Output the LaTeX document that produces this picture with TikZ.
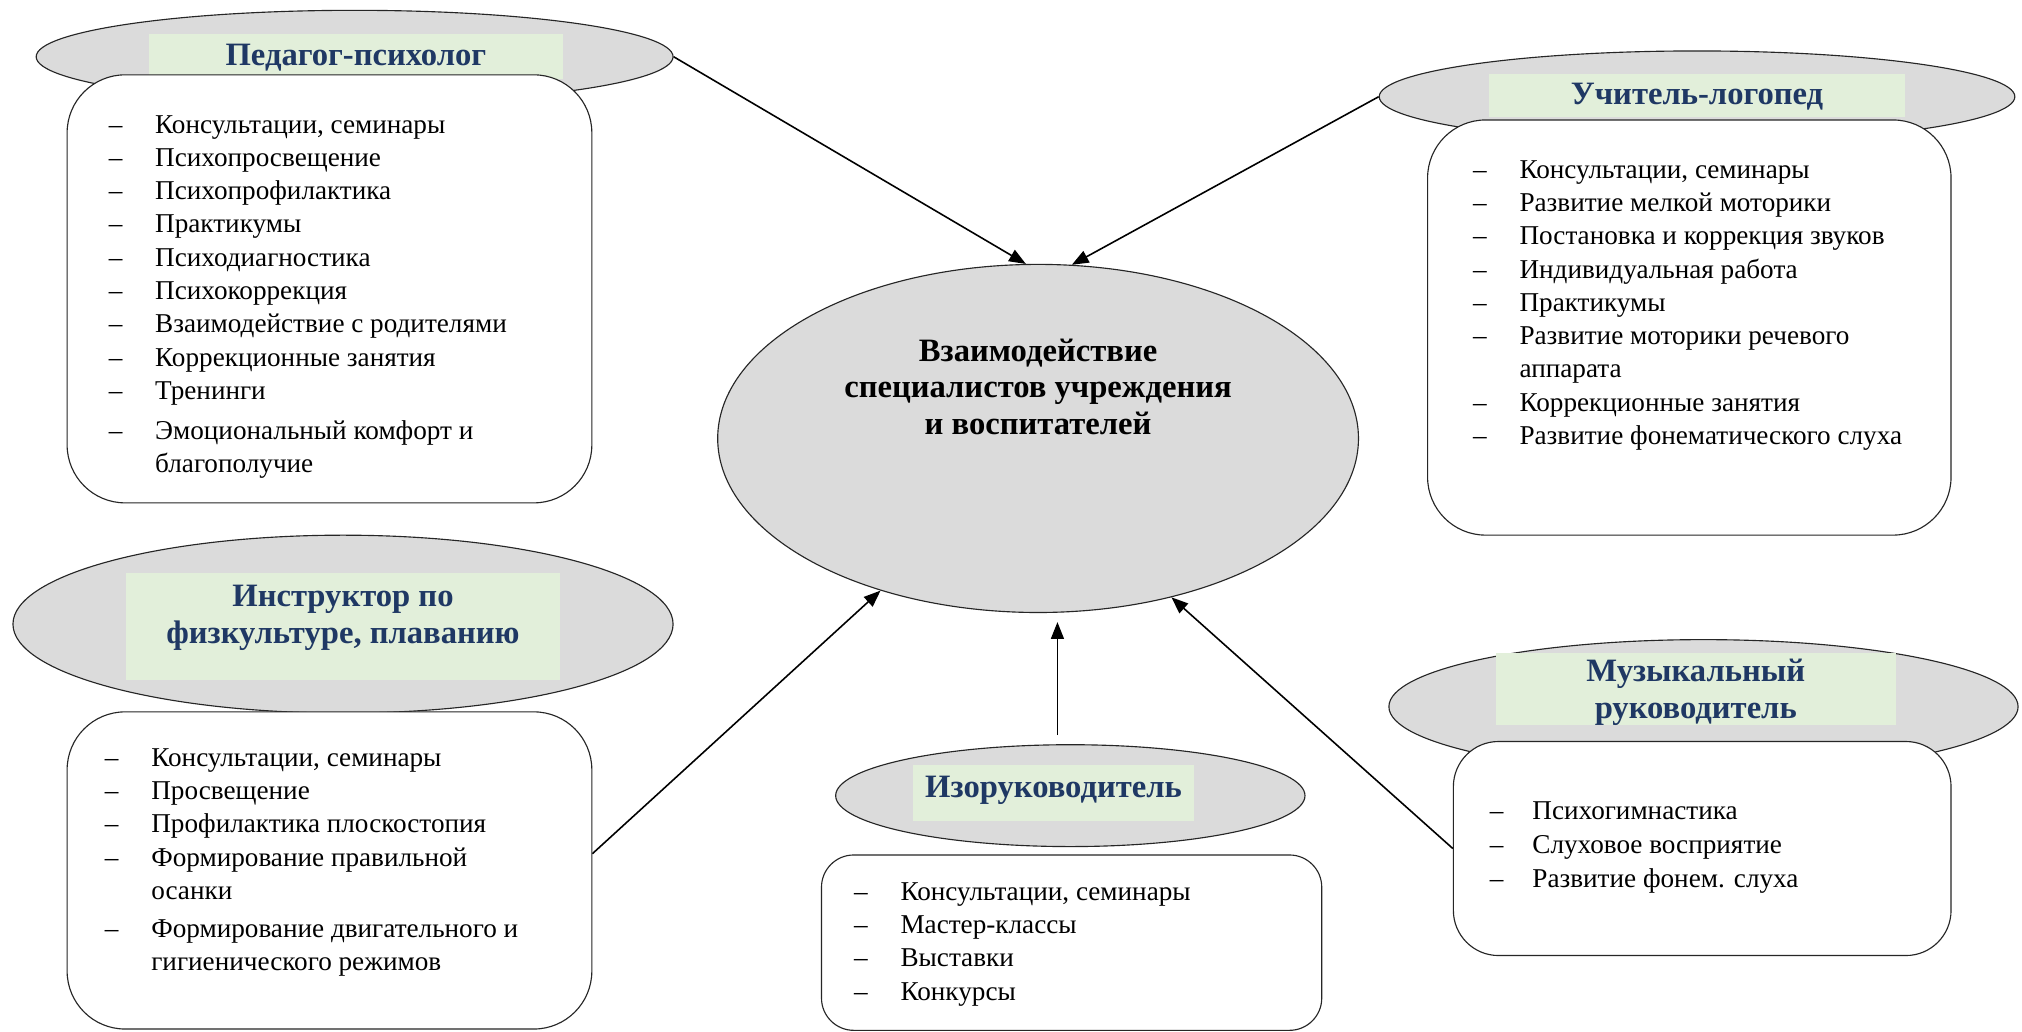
\documentclass[tikz,border=0pt]{standalone}
\usepackage{fontspec}
\setmainfont{Liberation Serif}
\usepackage{tikz}
\usetikzlibrary{positioning,shapes.geometric,arrows.meta}
\definecolor{ovalgray}{HTML}{DBDBDB}
\definecolor{titlegreen}{HTML}{E2EFDA}
\definecolor{titleblue}{HTML}{1F3864}
\newcommand{\itm}[1]{\makebox[0.72cm][l]{–}#1}
\newcommand{\cont}[1]{\hspace*{0.72cm}#1}
\tikzset{
  oval/.style={ellipse, draw=black!85, fill=ovalgray, line width=0.5pt, inner sep=0pt},
  greenbox/.style={rectangle, fill=titlegreen, inner sep=0pt},
  title/.style={text=titleblue, align=center, inner sep=0pt, font=\fontsize{14.4}{16.2}\selectfont\bfseries},
  listbox/.style={rectangle, draw=black!85, fill=white, line width=0.5pt, inner sep=0pt},
  items/.style={anchor=north west, align=left, inner sep=0pt, font=\fontsize{12}{14.7}\selectfont},
  link/.style={-{Triangle[length=0.26cm,width=0.2cm]}, line width=0.7pt}
}

\begin{document}
\begin{tikzpicture}[x=0.02cm, y=-0.02cm]
\useasboundingbox[fill=white] (0,0) rectangle (1568,800);

% centre
\node[oval, minimum width=9.94cm, minimum height=5.4cm] (mainE) at (805,340) {};
\node[title, text=black] (mainT) at (805,300) {Взаимодействие\\специалистов учреждения\\и воспитателей};

% Педагог-психолог
\node[oval, minimum width=9.88cm, minimum height=1.44cm] (pedE) at (275,44) {};
\node[greenbox, minimum width=6.42cm, minimum height=0.7cm] (pedG) at (276,44) {};
\node[title] (pedT) at (276,45) {Педагог-психолог};
\node[listbox, rounded corners=0.9cm, minimum width=8.14cm, minimum height=6.64cm] (pedB) at (255.5,224) {};
\node[items] (pedL) at (84,89) {\itm{Консультации, семинары}\\
  \itm{Психопросвещение}\\
  \itm{Психопрофилактика}\\
  \itm{Практикумы}\\
  \itm{Психодиагностика}\\
  \itm{Психокоррекция}\\
  \itm{Взаимодействие с родителями}\\
  \itm{Коррекционные занятия}\\
  \itm{Тренинги}\\[3pt]
  \itm{Эмоциональный комфорт и}\\
  \cont{благополучие}};

% Учитель-логопед
\node[oval, minimum width=9.86cm, minimum height=1.42cm] (logE) at (1316,75) {};
\node[greenbox, minimum width=6.46cm, minimum height=0.68cm] (logG) at (1316,74) {};
\node[title] (logT) at (1316,75) {Учитель-логопед};
\node[listbox, rounded corners=0.9cm, minimum width=8.12cm, minimum height=6.44cm] (logB) at (1310,254) {};
\node[items] (logL) at (1142,124) {\itm{Консультации, семинары}\\
  \itm{Развитие мелкой моторики}\\
  \itm{Постановка и коррекция звуков}\\
  \itm{Индивидуальная работа}\\
  \itm{Практикумы}\\
  \itm{Развитие моторики речевого}\\
  \cont{аппарата}\\
  \itm{Коррекционные занятия}\\
  \itm{Развитие фонематического слуха}};

% Инструктор по физкультуре
\node[oval, minimum width=10.24cm, minimum height=2.76cm] (instE) at (266,484) {};
\node[greenbox, minimum width=6.72cm, minimum height=1.66cm] (instG) at (266,486) {};
\node[title] (instT) at (266,479) {Инструктор по\\физкультуре, плаванию};
\node[listbox, rounded corners=0.9cm, minimum width=8.14cm, minimum height=4.92cm] (instB) at (255.5,675) {};
\node[items] (instL) at (81,580) {\itm{Консультации, семинары}\\
  \itm{Просвещение}\\
  \itm{Профилактика плоскостопия}\\
  \itm{Формирование правильной}\\
  \cont{осанки}\\[2pt]
  \itm{Формирование двигательного и}\\
  \cont{гигиенического режимов}};

% Изоруководитель
\node[oval, minimum width=7.28cm, minimum height=1.58cm] (izoE) at (830,617) {};
\node[greenbox, minimum width=4.36cm, minimum height=0.88cm] (izoG) at (817,615) {};
\node[title] (izoT) at (817,613) {Изоруководитель};
\node[listbox, rounded corners=0.5cm, minimum width=7.76cm, minimum height=2.72cm] (izoB) at (831,731) {};
\node[items] (izoL) at (662,684) {\itm{Консультации, семинары}\\
  \itm{Мастер-классы}\\
  \itm{Выставки}\\
  \itm{Конкурсы}};

% Музыкальный руководитель
\node[oval, minimum width=9.76cm, minimum height=2.08cm] (musE) at (1321,548) {};
\node[greenbox, minimum width=6.2cm, minimum height=1.12cm] (musG) at (1315,534) {};
\node[title] (musT) at (1315,537) {Музыкальный\\руководитель};
\node[listbox, rounded corners=0.7cm, minimum width=7.72cm, minimum height=3.32cm] (musB) at (1320,658) {};
\node[items, font=\fontsize{12}{15.1}\selectfont] (musL) at (1155,621) {\makebox[0.66cm][l]{–}Психогимнастика\\
  \makebox[0.66cm][l]{–}Слуховое восприятие\\
  \makebox[0.66cm][l]{–}Развитие фонем. слуха};

% arrows
\coordinate (izoTop) at (820,570);
\draw[link] (pedE.east) -- (mainE.94);
\draw[link] (logE.west) -- (mainE.79);
\draw[link] ([yshift=0.26cm]instB.east) -- (mainE.224);
\draw[link, shorten >=0.14cm] (izoTop) -- (izoTop |- mainE.south);
\draw[link] (musB.west) -- (mainE.310);
\end{tikzpicture}
\end{document}
